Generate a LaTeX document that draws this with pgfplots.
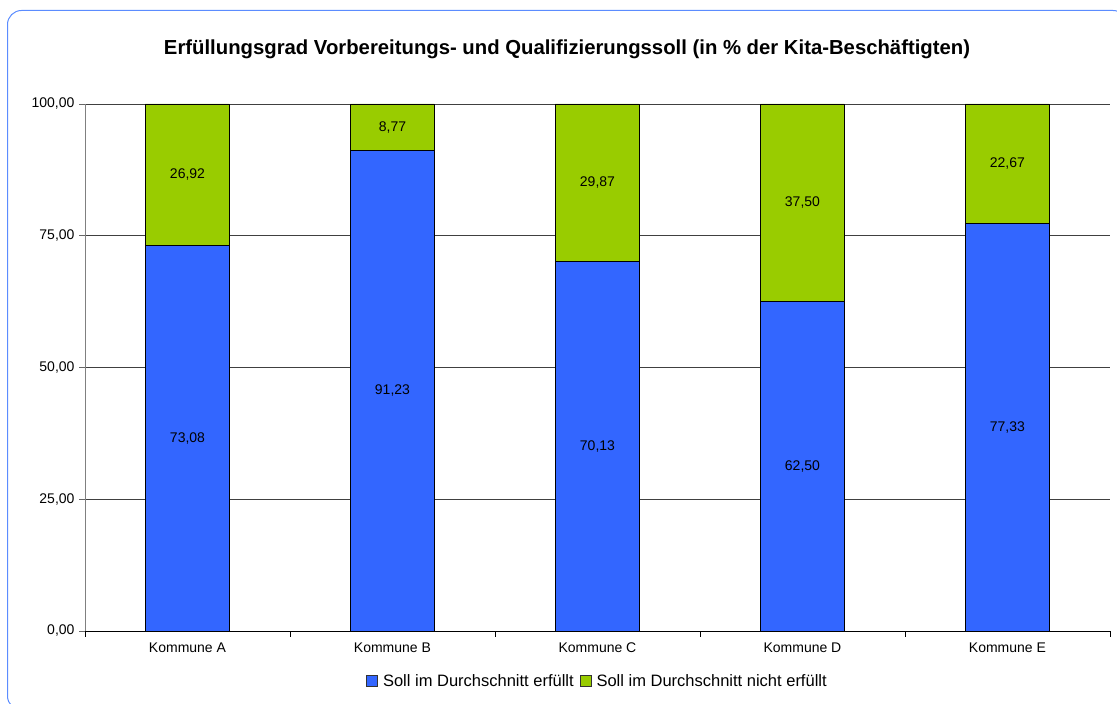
\documentclass[border=0pt]{standalone}
\usepackage{fontspec}
\setmainfont{Liberation Sans}
\usepackage{pgfplots}
\pgfplotsset{compat=1.18}
\definecolor{barblue}{HTML}{3366FF}
\definecolor{bargreen}{HTML}{99CC00}
\definecolor{framecol}{HTML}{5B8CFF}
\begin{document}
\begin{tikzpicture}
\useasboundingbox (0,0) rectangle (1117pt,704pt);
\draw[framecol, line width=1pt, rounded corners=14pt] (7.5pt,-6pt) rectangle (1127pt,693.5pt);
\node[font=\fontsize{20.3}{24}\selectfont\bfseries] at (567pt,655pt) {Erfüllungsgrad Vorbereitungs- und Qualifizierungssoll (in \% der Kita-Beschäftigten)};
\begin{axis}[
  at={(85pt,73pt)}, anchor=south west,
  scale only axis, width=1025pt, height=527pt,
  ybar stacked, bar width=84pt,
  xmin=-0.5, xmax=4.5, ymin=0, ymax=100,
  axis x line*=bottom, axis y line*=left,
  x axis line style={black, line width=0.8pt, -},
  y axis line style={gray, line width=1pt, -},
  xtick={0,1,2,3,4},
  xticklabels={Kommune A,Kommune B,Kommune C,Kommune D,Kommune E},
  major x tick style={draw=none},
  minor xtick={-0.5,0.5,1.5,2.5,3.5,4.5},
  minor x tick style={black, line width=0.8pt},
  minor tick length=6pt,
  ytick={0,25,50,75,100},
  major y tick style={gray!80!black, line width=0.8pt},
  major tick length=6pt,
  tick align=outside,
  ymajorgrids, major grid style={black!75, line width=0.9pt},
  /pgf/number format/use comma,
  /pgf/number format/fixed,
  /pgf/number format/fixed zerofill,
  /pgf/number format/precision=2,
  /pgf/number format/assume math mode=true,
  ticklabel style={font=\fontsize{14}{16}\selectfont},
  xticklabel style={yshift=-2pt},
  yticklabel style={xshift=-1pt},
  nodes near coords,
  nodes near coords style={font=\fontsize{14}{16}\selectfont, anchor=center},
  legend style={at={(0.5,-0.095)}, anchor=center, draw=none, fill=none, legend columns=2, font=\fontsize{16.5}{18}\selectfont, /tikz/every even column/.append style={column sep=4pt}, /tikz/every odd column/.append style={column sep=3pt}, inner sep=0pt},
  legend image code/.code={\draw[#1, draw=black!80, line width=0.8pt] (0pt,-5.5pt) rectangle (11pt,5.5pt);},
  clip=false,
]
\addplot[fill=barblue, draw=black, line width=0.8pt] coordinates {(0,73.08) (1,91.23) (2,70.13) (3,62.50) (4,77.33)};
\addplot[fill=bargreen, draw=black, line width=0.8pt] coordinates {(0,26.92) (1,8.77) (2,29.87) (3,37.50) (4,22.67)};
\legend{Soll im Durchschnitt erfüllt, Soll im Durchschnitt nicht erfüllt}
\end{axis}
\end{tikzpicture}
\end{document}
